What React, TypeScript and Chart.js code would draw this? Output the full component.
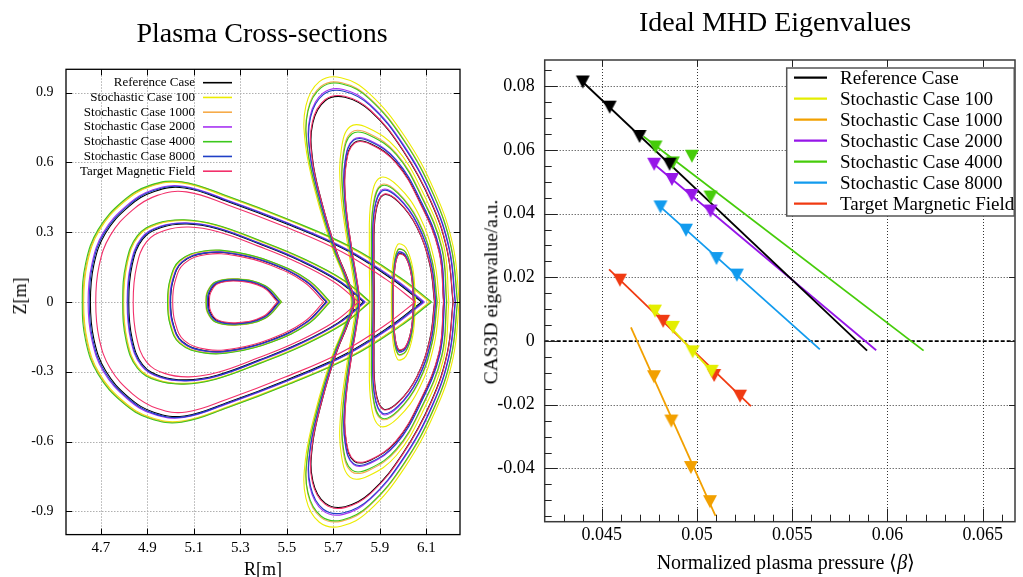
import React, { useEffect, useRef } from "react";
import { Chart, registerables } from "chart.js";

Chart.register(...registerables);

const SERIF = "'Liberation Serif', 'Times New Roman', serif";

// ================= Left panel: plasma cross-sections =================
// Each case: 8 closed flux-surface loops, flat [R, Z, R, Z, ...] in metres.
// Order: triangle-section surfaces T1..T4 (outer -> inner), bean-section surfaces B1..B4.
const caseLabels = [
  "Reference Case",
  "Stochastic Case 100",
  "Stochastic Case 1000",
  "Stochastic Case 2000",
  "Stochastic Case 4000",
  "Stochastic Case 8000",
  "Target Magnetic Field",
];
const caseColors = ["#000000", "#ecec00", "#f6ab4a", "#a632f2", "#3cc81c", "#1f3fc6", "#f2306a"];
const rTickLabels = ["4.7", "4.9", "5.1", "5.3", "5.5", "5.7", "5.9", "6.1"];
const zTickLabels = ["-0.9", "-0.6", "-0.3", "0", "0.3", "0.6", "0.9"];

const referenceCurves = [
  [6.08,0,5.95,.1,5.75,.225,5.5,.335,5.25,.43,5.06,.49,4.93,.475,4.82,.41,4.72,.295,4.67,.16,4.655,0,4.67,-.16,4.72,-.295,4.82,-.41,4.93,-.475,5.06,-.49,5.25,-.43,5.5,-.335,5.75,-.225,5.95,-.1,6.08,0],
  [5.83,0,5.72,.09,5.55,.18,5.38,.25,5.2,.315,5.07,.335,4.96,.32,4.88,.27,4.835,.16,4.82,0,4.835,-.16,4.88,-.27,4.96,-.32,5.07,-.335,5.2,-.315,5.38,-.25,5.55,-.18,5.72,-.09,5.83,0],
  [5.67,0,5.58,.09,5.43,.165,5.28,.205,5.15,.21,5.05,.17,5.01,.09,5,0,5.01,-.09,5.05,-.17,5.15,-.21,5.28,-.205,5.43,-.165,5.58,-.09,5.67,0],
  [5.465,0,5.4,.065,5.29,.092,5.2,.08,5.168,.04,5.163,0,5.168,-.04,5.2,-.08,5.29,-.092,5.4,-.065,5.465,0],
  [6.215,0,6.19,.22,6.12,.43,6,.65,5.86,.82,5.75,.88,5.665,.865,5.612,.77,5.61,.62,5.65,.43,5.713,.22,5.765,.09,5.79,0,5.765,-.09,5.713,-.22,5.65,-.43,5.61,-.62,5.612,-.77,5.665,-.865,5.75,-.88,5.86,-.82,6,-.65,6.12,-.43,6.19,-.22,6.215,0],
  [6.175,0,6.155,.22,6.07,.435,5.97,.6,5.86,.68,5.79,.685,5.755,.6,5.752,.44,5.78,.22,5.8,.1,5.812,0,5.8,-.1,5.78,-.22,5.752,-.44,5.755,-.6,5.79,-.685,5.86,-.68,5.97,-.6,6.07,-.435,6.155,-.22,6.175,0],
  [6.135,0,6.115,.16,6.06,.32,5.98,.43,5.915,.46,5.882,.38,5.875,.2,5.877,0,5.875,-.2,5.882,-.38,5.915,-.46,5.98,-.43,6.06,-.32,6.115,-.16,6.135,0],
  [6.045,0,6.035,.12,6.01,.195,5.98,.205,5.962,.12,5.958,0,5.962,-.12,5.98,-.205,6.01,-.195,6.035,-.12,6.045,0],
];
const stochastic100Curves = [
  [6.115,0,5.979,.105,5.77,.235,5.509,.35,5.248,.449,5.049,.512,4.913,.496,4.798,.428,4.694,.308,4.642,.167,4.626,0,4.642,-.167,4.694,-.308,4.798,-.428,4.913,-.496,5.049,-.512,5.248,-.449,5.509,-.35,5.77,-.235,5.979,-.105,6.115,0],
  [5.854,0,5.739,.094,5.561,.188,5.384,.261,5.196,.329,5.06,.35,4.945,.334,4.861,.282,4.814,.167,4.798,0,4.814,-.167,4.861,-.282,4.945,-.334,5.06,-.35,5.196,-.329,5.384,-.261,5.561,-.188,5.739,-.094,5.854,0],
  [5.683,0,5.59,.093,5.435,.171,5.279,.212,5.145,.217,5.041,.176,5,.093,4.99,0,5,-.093,5.041,-.176,5.145,-.217,5.279,-.212,5.435,-.171,5.59,-.093,5.683,0],
  [5.475,0,5.406,.069,5.289,.098,5.194,.085,5.16,.042,5.155,0,5.16,-.042,5.194,-.085,5.289,-.098,5.406,-.069,5.475,0],
  [6.242,0,6.215,.241,6.138,.471,6.007,.712,5.853,.898,5.733,.964,5.64,.947,5.582,.843,5.58,.679,5.623,.471,5.692,.241,5.749,.099,5.777,0,5.749,-.099,5.692,-.241,5.623,-.471,5.58,-.679,5.582,-.843,5.64,-.947,5.733,-.964,5.853,-.898,6.007,-.712,6.138,-.471,6.215,-.241,6.242,0],
  [6.197,0,6.175,.242,6.081,.479,5.971,.66,5.85,.748,5.773,.754,5.735,.66,5.731,.484,5.762,.242,5.784,.11,5.797,0,5.784,-.11,5.762,-.242,5.731,-.484,5.735,-.66,5.773,-.754,5.85,-.748,5.971,-.66,6.081,-.479,6.175,-.242,6.197,0],
  [6.157,0,6.133,.186,6.07,.371,5.977,.499,5.901,.534,5.863,.441,5.855,.232,5.857,0,5.855,-.232,5.863,-.441,5.901,-.534,5.977,-.499,6.07,-.371,6.133,-.186,6.157,0],
  [6.054,0,6.042,.144,6.012,.234,5.976,.246,5.954,.144,5.95,0,5.954,-.144,5.976,-.246,6.012,-.234,6.042,-.144,6.054,0],
];
const stochastic1000Curves = [
  [6.119,0,5.983,.105,5.773,.236,5.51,.352,5.248,.452,5.048,.515,4.912,.499,4.796,.431,4.691,.31,4.639,.168,4.623,0,4.639,-.168,4.691,-.31,4.796,-.431,4.912,-.499,5.048,-.515,5.248,-.452,5.51,-.352,5.773,-.236,5.983,-.105,6.119,0],
  [5.857,0,5.741,.095,5.563,.189,5.384,.263,5.195,.331,5.059,.352,4.943,.336,4.859,.284,4.812,.168,4.796,0,4.812,-.168,4.859,-.284,4.943,-.336,5.059,-.352,5.195,-.331,5.384,-.263,5.563,-.189,5.741,-.095,5.857,0],
  [5.685,0,5.591,.094,5.435,.172,5.279,.213,5.144,.218,5.04,.177,4.998,.094,4.988,0,4.998,-.094,5.04,-.177,5.144,-.218,5.279,-.213,5.435,-.172,5.591,-.094,5.685,0],
  [5.478,0,5.408,.07,5.289,.099,5.192,.086,5.157,.043,5.152,0,5.157,-.043,5.192,-.086,5.289,-.099,5.408,-.07,5.478,0],
  [6.235,0,6.208,.235,6.133,.46,6.005,.696,5.855,.877,5.737,.942,5.646,.926,5.59,.824,5.588,.663,5.63,.46,5.698,.235,5.753,.096,5.78,0,5.753,-.096,5.698,-.235,5.63,-.46,5.588,-.663,5.59,-.824,5.646,-.926,5.737,-.942,5.855,-.877,6.005,-.696,6.133,-.46,6.208,-.235,6.235,0],
  [6.189,0,6.168,.234,6.077,.463,5.971,.639,5.853,.724,5.779,.73,5.742,.639,5.739,.469,5.768,.234,5.79,.107,5.802,0,5.79,-.107,5.768,-.234,5.739,-.469,5.742,-.639,5.779,-.73,5.853,-.724,5.971,-.639,6.077,-.463,6.168,-.234,6.189,0],
  [6.148,0,6.126,.175,6.066,.35,5.978,.471,5.907,.504,5.871,.416,5.863,.219,5.865,0,5.863,-.219,5.871,-.416,5.907,-.504,5.978,-.471,6.066,-.35,6.126,-.175,6.148,0],
  [6.05,0,6.039,.132,6.011,.215,5.978,.226,5.958,.132,5.954,0,5.958,-.132,5.978,-.226,6.011,-.215,6.039,-.132,6.05,0],
];
const stochastic2000Curves = [
  [6.092,0,5.96,.102,5.757,.228,5.503,.34,5.249,.436,5.056,.497,4.924,.482,4.813,.416,4.711,.299,4.661,.162,4.645,0,4.661,-.162,4.711,-.299,4.813,-.416,4.924,-.482,5.056,-.497,5.249,-.436,5.503,-.34,5.757,-.228,5.96,-.102,6.092,0],
  [5.838,0,5.726,.091,5.554,.183,5.381,.254,5.199,.32,5.067,.34,4.955,.325,4.874,.274,4.828,.162,4.813,0,4.828,-.162,4.874,-.274,4.955,-.325,5.067,-.34,5.199,-.32,5.381,-.254,5.554,-.183,5.726,-.091,5.838,0],
  [5.674,0,5.583,.091,5.431,.167,5.28,.207,5.149,.212,5.048,.172,5.007,.091,4.997,0,5.007,-.091,5.048,-.172,5.149,-.212,5.28,-.207,5.431,-.167,5.583,-.091,5.674,0],
  [5.47,0,5.403,.067,5.29,.095,5.197,.082,5.164,.041,5.159,0,5.164,-.041,5.197,-.082,5.29,-.095,5.403,-.067,5.47,0],
  [6.226,0,6.2,.228,6.127,.446,6.003,.674,5.857,.85,5.743,.913,5.655,.897,5.6,.798,5.598,.643,5.64,.446,5.705,.228,5.759,.093,5.785,0,5.759,-.093,5.705,-.228,5.64,-.446,5.598,-.643,5.6,-.798,5.655,-.897,5.743,-.913,5.857,-.85,6.003,-.674,6.127,-.446,6.2,-.228,6.226,0],
  [6.179,0,6.159,.224,6.072,.444,5.97,.612,5.858,.694,5.787,.699,5.751,.612,5.748,.449,5.776,.224,5.797,.102,5.809,0,5.797,-.102,5.776,-.224,5.748,-.449,5.751,-.612,5.787,-.699,5.858,-.694,5.97,-.612,6.072,-.444,6.159,-.224,6.179,0],
  [6.142,0,6.121,.168,6.063,.336,5.979,.452,5.911,.483,5.876,.399,5.869,.21,5.871,0,5.869,-.21,5.876,-.399,5.911,-.483,5.979,-.452,6.063,-.336,6.121,-.168,6.142,0],
  [6.047,0,6.036,.125,6.01,.203,5.979,.213,5.96,.125,5.956,0,5.96,-.125,5.979,-.213,6.01,-.203,6.036,-.125,6.047,0],
];
const stochastic4000Curves = [
  [6.123,0,5.986,.106,5.775,.237,5.511,.353,5.247,.454,5.047,.517,4.91,.501,4.794,.433,4.688,.311,4.635,.169,4.62,0,4.635,-.169,4.688,-.311,4.794,-.433,4.91,-.501,5.047,-.517,5.247,-.454,5.511,-.353,5.775,-.237,5.986,-.106,6.123,0],
  [5.859,0,5.743,.095,5.564,.19,5.384,.264,5.195,.332,5.057,.353,4.941,.338,4.857,.285,4.809,.169,4.794,0,4.809,-.169,4.857,-.285,4.941,-.338,5.057,-.353,5.195,-.332,5.384,-.264,5.564,-.19,5.743,-.095,5.859,0],
  [5.687,0,5.593,.094,5.436,.172,5.279,.214,5.143,.219,5.039,.178,4.997,.094,4.987,0,4.997,-.094,5.039,-.178,5.143,-.219,5.279,-.214,5.436,-.172,5.593,-.094,5.687,0],
  [5.477,0,5.407,.07,5.289,.098,5.193,.086,5.159,.043,5.153,0,5.159,-.043,5.193,-.086,5.289,-.098,5.407,-.07,5.477,0],
  [6.234,0,6.207,.234,6.132,.458,6.005,.692,5.855,.873,5.738,.937,5.648,.921,5.591,.82,5.589,.66,5.632,.458,5.699,.234,5.754,.096,5.781,0,5.754,-.096,5.699,-.234,5.632,-.458,5.589,-.66,5.591,-.82,5.648,-.921,5.738,-.937,5.855,-.873,6.005,-.692,6.132,-.458,6.207,-.234,6.234,0],
  [6.187,0,6.166,.232,6.076,.459,5.971,.633,5.855,.717,5.781,.723,5.744,.633,5.741,.464,5.77,.232,5.791,.106,5.804,0,5.791,-.106,5.77,-.232,5.741,-.464,5.744,-.633,5.781,-.723,5.855,-.717,5.971,-.633,6.076,-.459,6.166,-.232,6.187,0],
  [6.146,0,6.125,.174,6.065,.347,5.978,.467,5.908,.499,5.872,.412,5.864,.217,5.867,0,5.864,-.217,5.872,-.412,5.908,-.499,5.978,-.467,6.065,-.347,6.125,-.174,6.146,0],
  [6.049,0,6.038,.131,6.011,.213,5.978,.223,5.959,.131,5.954,0,5.959,-.131,5.978,-.223,6.011,-.213,6.038,-.131,6.049,0],
];
const stochastic8000Curves = [
  [6.086,0,5.955,.101,5.754,.227,5.502,.338,5.25,.433,5.058,.494,4.927,.479,4.816,.413,4.715,.297,4.665,.161,4.65,0,4.665,-.161,4.715,-.297,4.816,-.413,4.927,-.479,5.058,-.494,5.25,-.433,5.502,-.338,5.754,-.227,5.955,-.101,6.086,0],
  [5.834,0,5.723,.091,5.552,.181,5.381,.252,5.199,.318,5.068,.338,4.957,.323,4.877,.272,4.831,.161,4.816,0,4.831,-.161,4.877,-.272,4.957,-.323,5.068,-.338,5.199,-.318,5.381,-.252,5.552,-.181,5.723,-.091,5.834,0],
  [5.672,0,5.581,.09,5.431,.166,5.28,.206,5.149,.211,5.049,.171,5.009,.09,4.999,0,5.009,-.09,5.049,-.171,5.149,-.211,5.28,-.206,5.431,-.166,5.581,-.09,5.672,0],
  [5.468,0,5.402,.066,5.29,.094,5.198,.082,5.165,.041,5.16,0,5.165,-.041,5.198,-.082,5.29,-.094,5.402,-.066,5.468,0],
  [6.224,0,6.198,.227,6.126,.443,6.002,.67,5.858,.845,5.745,.906,5.657,.891,5.602,.793,5.6,.639,5.642,.443,5.707,.227,5.76,.093,5.786,0,5.76,-.093,5.707,-.227,5.642,-.443,5.6,-.639,5.602,-.793,5.657,-.891,5.745,-.906,5.858,-.845,6.002,-.67,6.126,-.443,6.198,-.227,6.224,0],
  [6.178,0,6.158,.223,6.072,.442,5.97,.609,5.858,.69,5.787,.695,5.752,.609,5.749,.447,5.777,.223,5.798,.102,5.81,0,5.798,-.102,5.777,-.223,5.749,-.447,5.752,-.609,5.787,-.695,5.858,-.69,5.97,-.609,6.072,-.442,6.158,-.223,6.178,0],
  [6.14,0,6.12,.166,6.062,.333,5.979,.447,5.912,.478,5.877,.395,5.87,.208,5.872,0,5.87,-.208,5.877,-.395,5.912,-.478,5.979,-.447,6.062,-.333,6.12,-.166,6.14,0],
  [6.046,0,6.036,.124,6.01,.201,5.979,.211,5.961,.124,5.957,0,5.961,-.124,5.979,-.211,6.01,-.201,6.036,-.124,6.046,0],
];
const targetFieldCurves = [
  [6.053,0,5.927,.097,5.734,.217,5.493,.323,5.252,.415,5.068,.473,4.943,.458,4.837,.396,4.74,.285,4.692,.154,4.678,0,4.692,-.154,4.74,-.285,4.837,-.396,4.943,-.458,5.068,-.473,5.252,-.415,5.493,-.323,5.734,-.217,5.927,-.097,6.053,0],
  [5.809,0,5.703,.086,5.54,.173,5.377,.24,5.204,.302,5.079,.322,4.974,.307,4.897,.259,4.854,.154,4.839,0,4.854,-.154,4.897,-.259,4.974,-.307,5.079,-.322,5.204,-.302,5.377,-.24,5.54,-.173,5.703,-.086,5.809,0],
  [5.659,0,5.572,.087,5.426,.16,5.281,.199,5.155,.204,5.058,.165,5.019,.087,5.009,0,5.019,-.087,5.058,-.165,5.155,-.204,5.281,-.199,5.426,-.16,5.572,-.087,5.659,0],
  [5.46,0,5.397,.063,5.29,.089,5.203,.078,5.172,.039,5.167,0,5.172,-.039,5.203,-.078,5.29,-.089,5.397,-.063,5.46,0],
  [6.216,0,6.191,.221,6.121,.432,6,.653,5.86,.824,5.749,.884,5.664,.869,5.61,.774,5.608,.623,5.649,.432,5.712,.221,5.764,.09,5.789,0,5.764,-.09,5.712,-.221,5.649,-.432,5.608,-.623,5.61,-.774,5.664,-.869,5.749,-.884,5.86,-.824,6,-.653,6.121,-.432,6.191,-.221,6.216,0],
  [6.174,0,6.154,.219,6.069,.433,5.97,.597,5.861,.677,5.791,.682,5.756,.597,5.753,.438,5.781,.219,5.801,.1,5.813,0,5.801,-.1,5.781,-.219,5.753,-.438,5.756,-.597,5.791,-.682,5.861,-.677,5.97,-.597,6.069,-.433,6.154,-.219,6.174,0],
  [6.136,0,6.116,.161,6.06,.322,5.98,.432,5.915,.462,5.881,.382,5.874,.201,5.876,0,5.874,-.201,5.881,-.382,5.915,-.462,5.98,-.432,6.06,-.322,6.116,-.161,6.136,0],
  [6.045,0,6.035,.119,6.01,.193,5.98,.203,5.962,.119,5.958,0,5.962,-.119,5.98,-.203,6.01,-.193,6.035,-.119,6.045,0],
];
const curvesByCase = [
  referenceCurves,
  stochastic100Curves,
  stochastic1000Curves,
  stochastic2000Curves,
  stochastic4000Curves,
  stochastic8000Curves,
  targetFieldCurves,
];

// ================= Right panel: ideal MHD eigenvalues =================
const eigenLabels = [
  "Reference Case",
  "Stochastic Case 100",
  "Stochastic Case 1000",
  "Stochastic Case 2000",
  "Stochastic Case 4000",
  "Stochastic Case 8000",
  "Target Margnetic Field",
];
const eigenColors = ["#000000", "#e4ee00", "#f2a000", "#9616e8", "#46cc0a", "#129bee", "#f03a12"];
const betaTickLabels = ["0.045", "0.05", "0.055", "0.06", "0.065"];
const eigTickLabels = ["-0.04", "-0.02", "0", "0.02", "0.04", "0.06", "0.08"];

// measured points (beta, eigenvalue)
const refBeta = [0.044, 0.04541, 0.04698, 0.04856];
const refEig = [0.0813, 0.0734, 0.0642, 0.0555];
const s100Beta = [0.04779, 0.04873, 0.04977, 0.05077];
const s100Eig = [0.0094, 0.0043, -0.0034, -0.0095];
const s1000Beta = [0.04774, 0.04865, 0.04968, 0.05068];
const s1000Eig = [-0.0112, -0.0251, -0.0397, -0.0504];
const s2000Beta = [0.04775, 0.04868, 0.04972, 0.05071];
const s2000Eig = [0.0555, 0.0507, 0.0457, 0.0408];
const s4000Beta = [0.04782, 0.04873, 0.04973, 0.05071];
const s4000Eig = [0.0609, 0.0559, 0.058, 0.0452];
const s8000Beta = [0.04808, 0.04942, 0.05102, 0.05209];
const s8000Eig = [0.0421, 0.0348, 0.0259, 0.0207];
const targetBeta = [0.04595, 0.04822, 0.0509, 0.05226];
const targetEig = [0.0191, 0.0062, -0.0108, -0.0173];

// linear fit lines (start / end)
const refFitBeta = [0.044, 0.05893];
const refFitEig = [0.0813, -0.003];
const s100FitBeta = [0.04753, 0.05097];
const s100FitEig = [0.0113, -0.0108];
const s1000FitBeta = [0.04653, 0.05097];
const s1000FitEig = [0.0043, -0.0549];
const s2000FitBeta = [0.04775, 0.05941];
const s2000FitEig = [0.0555, -0.0029];
const s4000FitBeta = [0.04719, 0.0619];
const s4000FitEig = [0.0642, -0.003];
const s8000FitBeta = [0.04808, 0.05645];
const s8000FitEig = [0.0421, -0.0026];
const targetFitBeta = [0.04538, 0.05283];
const targetFitEig = [0.0225, -0.0204];

const pointSets = [
  [refBeta, refEig],
  [s100Beta, s100Eig],
  [s1000Beta, s1000Eig],
  [s2000Beta, s2000Eig],
  [s4000Beta, s4000Eig],
  [s8000Beta, s8000Eig],
  [targetBeta, targetEig],
];
const fitSets = [
  [refFitBeta, refFitEig],
  [s100FitBeta, s100FitEig],
  [s1000FitBeta, s1000FitEig],
  [s2000FitBeta, s2000FitEig],
  [s4000FitBeta, s4000FitEig],
  [s8000FitBeta, s8000FitEig],
  [targetFitBeta, targetFitEig],
];

// ================= helpers =================
function flatToPoints(flat: number[]) {
  const pts: { x: number; y: number }[] = [];
  for (let i = 0; i < flat.length; i += 2) pts.push({ x: flat[i], y: flat[i + 1] });
  return pts;
}
function zipPoints(xs: number[], ys: number[]) {
  return xs.map((x, i) => ({ x, y: ys[i] }));
}
function makeTriangle(color: string) {
  const c = document.createElement("canvas");
  c.width = 16;
  c.height = 15;
  const g = c.getContext("2d")!;
  g.fillStyle = color;
  g.beginPath();
  g.moveTo(1, 1);
  g.lineTo(15, 1);
  g.lineTo(8, 14);
  g.closePath();
  g.fill();
  return c;
}
function seg(ctx: CanvasRenderingContext2D, x1: number, y1: number, x2: number, y2: number) {
  ctx.moveTo(x1, y1);
  ctx.lineTo(x2, y2);
}

const rTickValues = rTickLabels.map(Number);
const zTickValues = zTickLabels.map(Number);
const betaTickValues = betaTickLabels.map(Number);
const eigTickValues = eigTickLabels.map(Number);

const leftDecor = {
  id: "leftDecor",
  beforeDatasetsDraw(chart: any) {
    const { ctx, chartArea: a, scales } = chart;
    ctx.save();
    ctx.strokeStyle = "#b0b0b0";
    ctx.lineWidth = 1;
    ctx.setLineDash([1.5, 1.5]);
    ctx.beginPath();
    for (const v of rTickValues) {
      const p = Math.round(scales.x.getPixelForValue(v)) + 0.5;
      seg(ctx, p, a.top, p, a.bottom);
    }
    for (const v of zTickValues) {
      const p = Math.round(scales.y.getPixelForValue(v)) + 0.5;
      seg(ctx, a.left, p, a.right, p);
    }
    ctx.stroke();
    ctx.restore();
  },
  afterDatasetsDraw(chart: any) {
    const { ctx, chartArea: a, scales } = chart;
    ctx.save();
    ctx.setLineDash([]);
    ctx.strokeStyle = "#000";
    ctx.lineWidth = 1.3;
    ctx.strokeRect(a.left, a.top, a.right - a.left, a.bottom - a.top);
    ctx.lineWidth = 1;
    ctx.beginPath();
    const t = 6;
    for (const v of rTickValues) {
      const p = Math.round(scales.x.getPixelForValue(v)) + 0.5;
      seg(ctx, p, a.bottom, p, a.bottom - t);
      seg(ctx, p, a.top, p, a.top + t);
    }
    for (const v of zTickValues) {
      const p = Math.round(scales.y.getPixelForValue(v)) + 0.5;
      seg(ctx, a.left, p, a.left + t, p);
      seg(ctx, a.right, p, a.right - t, p);
    }
    ctx.stroke();
    // legend
    ctx.font = `13px ${SERIF}`;
    ctx.textAlign = "right";
    ctx.textBaseline = "middle";
    caseLabels.forEach((lab, i) => {
      const yy = a.top + 13.4 + i * 14.75;
      ctx.fillStyle = "#000";
      ctx.fillText(lab, a.left + 129, yy);
      ctx.strokeStyle = caseColors[i];
      ctx.lineWidth = 1.6;
      ctx.beginPath();
      seg(ctx, a.left + 137, yy, a.left + 166, yy);
      ctx.stroke();
    });
    ctx.restore();
  },
};

const rightDecor = {
  id: "rightDecor",
  beforeDatasetsDraw(chart: any) {
    const { ctx, chartArea: a, scales } = chart;
    ctx.save();
    ctx.strokeStyle = "#333";
    ctx.lineWidth = 1;
    ctx.setLineDash([1, 2]);
    ctx.beginPath();
    for (const v of betaTickValues) {
      const p = Math.round(scales.x.getPixelForValue(v)) + 0.5;
      seg(ctx, p, a.top, p, a.bottom);
    }
    for (const v of eigTickValues) {
      if (v === 0) continue;
      const p = Math.round(scales.y.getPixelForValue(v)) + 0.5;
      seg(ctx, a.left, p, a.right, p);
    }
    ctx.stroke();
    ctx.strokeStyle = "#000";
    ctx.lineWidth = 1.8;
    ctx.setLineDash([4, 2]);
    const p0 = scales.y.getPixelForValue(0);
    ctx.beginPath();
    seg(ctx, a.left, p0, a.right, p0);
    ctx.stroke();
    ctx.restore();
  },
  afterDatasetsDraw(chart: any) {
    const { ctx, chartArea: a, scales } = chart;
    ctx.save();
    ctx.setLineDash([]);
    ctx.strokeStyle = "#3a3a3a";
    ctx.lineWidth = 1.5;
    ctx.strokeRect(a.left, a.top, a.right - a.left, a.bottom - a.top);
    ctx.strokeStyle = "#222";
    ctx.lineWidth = 1;
    ctx.beginPath();
    for (let k = 43; k <= 66; k++) {
      const p = Math.round(scales.x.getPixelForValue(k / 1000)) + 0.5;
      seg(ctx, p, a.bottom, p, a.bottom - 7);
    }
    for (let k = -11; k <= 17; k++) {
      const p = Math.round(scales.y.getPixelForValue(k * 0.005)) + 0.5;
      seg(ctx, a.left, p, a.left + 7, p);
    }
    for (const v of betaTickValues) {
      const p = Math.round(scales.x.getPixelForValue(v)) + 0.5;
      seg(ctx, p, a.bottom, p, a.bottom - 13);
      seg(ctx, p, a.top, p, a.top + 6);
    }
    for (const v of eigTickValues) {
      const p = Math.round(scales.y.getPixelForValue(v)) + 0.5;
      seg(ctx, a.left, p, a.left + 13, p);
      seg(ctx, a.right, p, a.right - 6, p);
    }
    ctx.stroke();
    // legend box
    const lx = a.left + 242;
    const ly = a.top + 8;
    const lw = a.right - 0.75 - lx;
    const lh = 148;
    ctx.fillStyle = "#fff";
    ctx.fillRect(lx, ly, lw, lh);
    ctx.strokeStyle = "#555";
    ctx.lineWidth = 1.5;
    ctx.strokeRect(lx, ly, lw, lh);
    ctx.font = `19px ${SERIF}`;
    ctx.textAlign = "left";
    ctx.textBaseline = "middle";
    eigenLabels.forEach((lab, i) => {
      const yy = a.top + 17.7 + 21 * i;
      ctx.strokeStyle = eigenColors[i];
      ctx.lineWidth = 2.2;
      ctx.beginPath();
      seg(ctx, a.left + 249.3, yy, a.left + 282.3, yy);
      ctx.stroke();
      ctx.fillStyle = "#000";
      ctx.fillText(lab, a.left + 295.3, yy + 1);
    });
    ctx.restore();
  },
};

function Label(props: { x: number; y: number; size: number; rotate?: boolean; children: any }) {
  const { x, y, size, rotate, children } = props;
  return (
    <div
      style={{
        position: "absolute",
        left: x,
        top: y,
        fontSize: size,
        lineHeight: 1,
        whiteSpace: "nowrap",
        transform: `translate(-50%, -50%)${rotate ? " rotate(-90deg)" : ""}`,
      }}
    >
      {children}
    </div>
  );
}

export default function App() {
  const leftRef = useRef<HTMLCanvasElement>(null);
  const rightRef = useRef<HTMLCanvasElement>(null);

  useEffect(() => {
    Chart.defaults.font.family = SERIF;

    // ---------- left chart ----------
    const leftDatasets: any[] = [];
    for (let c = curvesByCase.length - 1; c >= 0; c--) {
      for (const loop of curvesByCase[c]) {
        leftDatasets.push({
          label: caseLabels[c],
          data: flatToPoints(loop),
          showLine: true,
          borderColor: caseColors[c],
          backgroundColor: caseColors[c],
          borderWidth: 1.1,
          pointRadius: 0,
          tension: 0.4,
          fill: false,
        });
      }
    }
    const left = new Chart(leftRef.current!, {
      type: "scatter",
      data: { datasets: leftDatasets },
      options: {
        animation: false,
        responsive: false,
        events: [],
        layout: { padding: { left: 0, right: 20, top: 69.3, bottom: 0 } },
        plugins: { legend: { display: false }, tooltip: { enabled: false } },
        scales: {
          x: {
            type: "linear",
            min: 4.55,
            max: 6.245,
            afterBuildTicks: (s: any) => {
              s.ticks = rTickValues.map((v) => ({ value: v }));
            },
            afterFit: (s: any) => {
              s.height = 42.4;
            },
            grid: { display: false, drawTicks: false },
            border: { display: false },
            ticks: {
              autoSkip: false,
              maxRotation: 0,
              padding: 4.7,
              color: "#000",
              font: { size: 15, family: SERIF },
              callback: (_v: any, i: number) => rTickLabels[i],
            },
          },
          y: {
            type: "linear",
            min: -1,
            max: 1,
            afterBuildTicks: (s: any) => {
              s.ticks = zTickValues.map((v) => ({ value: v }));
            },
            afterFit: (s: any) => {
              s.width = 66;
            },
            grid: { display: false, drawTicks: false },
            border: { display: false },
            ticks: {
              autoSkip: false,
              padding: 12.5,
              color: "#000",
              font: { size: 14, family: SERIF },
              callback: (_v: any, i: number) => zTickLabels[i],
            },
          },
        },
      } as any,
      plugins: [leftDecor],
    });

    // ---------- right chart ----------
    const rightDatasets: any[] = [];
    pointSets.forEach(([xs, ys], c) => {
      rightDatasets.push({
        label: eigenLabels[c],
        data: zipPoints(xs, ys),
        showLine: false,
        pointStyle: makeTriangle(eigenColors[c]),
        pointRadius: 7,
        backgroundColor: eigenColors[c],
        borderColor: eigenColors[c],
        order: 1,
      });
    });
    fitSets.forEach(([xs, ys], c) => {
      rightDatasets.push({
        label: eigenLabels[c] + " fit",
        data: zipPoints(xs, ys),
        showLine: true,
        pointRadius: 0,
        borderColor: eigenColors[c],
        backgroundColor: eigenColors[c],
        borderWidth: 1.8,
        order: 2,
      });
    });
    const right = new Chart(rightRef.current!, {
      type: "scatter",
      data: { datasets: rightDatasets },
      options: {
        animation: false,
        responsive: false,
        events: [],
        layout: { padding: { left: 0, right: 1, top: 60, bottom: 0 } },
        plugins: { legend: { display: false }, tooltip: { enabled: false } },
        scales: {
          x: {
            type: "linear",
            min: 0.042,
            max: 0.0667,
            afterBuildTicks: (s: any) => {
              s.ticks = betaTickValues.map((v) => ({ value: v }));
            },
            afterFit: (s: any) => {
              s.height = 55.3;
            },
            grid: { display: false, drawTicks: false },
            border: { display: false },
            ticks: {
              autoSkip: false,
              maxRotation: 0,
              padding: 2.5,
              color: "#000",
              font: { size: 18, family: SERIF },
              callback: (_v: any, i: number) => betaTickLabels[i],
            },
          },
          y: {
            type: "linear",
            min: -0.0567,
            max: 0.0882,
            afterBuildTicks: (s: any) => {
              s.ticks = eigTickValues.map((v) => ({ value: v }));
            },
            afterFit: (s: any) => {
              s.width = 64.7;
            },
            grid: { display: false, drawTicks: false },
            border: { display: false },
            ticks: {
              autoSkip: false,
              padding: 10,
              color: "#000",
              font: { size: 18, family: SERIF },
              callback: (_v: any, i: number) => eigTickLabels[i],
            },
          },
        },
      } as any,
      plugins: [rightDecor],
    });

    return () => {
      left.destroy();
      right.destroy();
    };
  }, []);

  return (
    <div
      style={{
        position: "absolute",
        left: 0,
        top: 0,
        width: 1023,
        height: 577,
        overflow: "hidden",
        background: "#fff",
        color: "#000",
        fontFamily: SERIF,
      }}
    >
      <canvas ref={leftRef} width={480} height={577} style={{ position: "absolute", left: 0, top: 0, width: 480, height: 577 }} />
      <canvas ref={rightRef} width={543} height={577} style={{ position: "absolute", left: 480, top: 0, width: 543, height: 577 }} />
      <Label x={262} y={32.5} size={28}>Plasma Cross-sections</Label>
      <Label x={775} y={21.5} size={28}>Ideal MHD Eigenvalues</Label>
      <Label x={263} y={569} size={18}>R[m]</Label>
      <Label x={20} y={296} size={18} rotate>Z[m]</Label>
      <Label x={786} y={562} size={20}>
        Normalized plasma pressure ⟨<i>β</i>⟩
      </Label>
      <Label x={491} y={292} size={19.5} rotate>CAS3D eigenvalue/a.u.</Label>
    </div>
  );
}
